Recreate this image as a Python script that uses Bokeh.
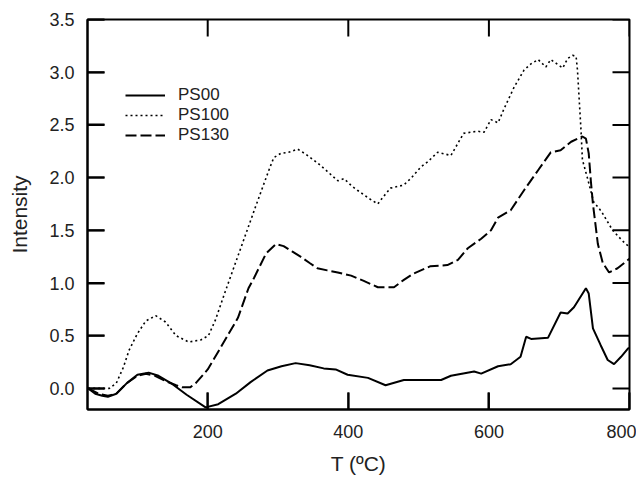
import math
from bokeh.plotting import figure
from bokeh.models import (Range1d, FixedTicker, PrintfTickFormatter, Legend, LegendItem)
from bokeh.embed import file_html
from bokeh.resources import INLINE

# ---- data ----
ps00_x = [30, 40, 50, 58, 70, 85, 100, 116, 130, 150, 170, 197, 215, 240, 261, 285,
          305, 325, 345, 365, 382, 399, 428, 453, 479, 532, 546, 579, 589, 613, 631,
          645, 653, 660, 684, 702, 712, 721, 738, 742, 748, 759, 769, 778, 788, 798, 800]
ps00_y = [0.0, -0.05, -0.07, -0.08, -0.05, 0.05, 0.13, 0.15, 0.12, 0.04, -0.06, -0.18,
          -0.15, -0.05, 0.06, 0.17, 0.21, 0.24, 0.22, 0.19, 0.18, 0.13, 0.10, 0.03, 0.08,
          0.08, 0.12, 0.16, 0.14, 0.21, 0.23, 0.30, 0.49, 0.47, 0.48, 0.72, 0.71, 0.77,
          0.95, 0.90, 0.57, 0.41, 0.27, 0.23, 0.30, 0.38, 0.38]

ps100_x = [30, 45, 60, 70, 80, 88, 100, 112, 126, 140, 155, 173, 190, 201, 211, 225,
           240, 255, 270, 287, 294, 304, 315, 328, 340, 356, 370, 385, 394, 405, 413,
           430, 442, 450, 460, 479, 490, 503, 513, 527, 546, 564, 584, 593, 603, 613,
           622, 636, 650, 660, 670, 681, 688, 705, 712, 719, 724, 726, 731, 733, 740,
           749, 760, 776, 790, 800]
ps100_y = [0.0, 0.0, 0.0, 0.05, 0.2, 0.36, 0.52, 0.64, 0.69, 0.63, 0.50, 0.44, 0.46,
           0.50, 0.65, 0.92, 1.20, 1.48, 1.76, 2.07, 2.19, 2.23, 2.24, 2.27, 2.22, 2.14,
           2.06, 1.97, 1.99, 1.92, 1.88, 1.80, 1.75, 1.82, 1.90, 1.93, 2.00, 2.10, 2.15,
           2.24, 2.21, 2.42, 2.44, 2.43, 2.55, 2.52, 2.66, 2.86, 3.02, 3.08, 3.12, 3.05,
           3.12, 3.04, 3.13, 3.16, 3.15, 3.02, 2.45, 2.17, 2.0, 1.77, 1.68, 1.50, 1.40, 1.34]

ps130_x = [30, 45, 58, 70, 85, 100, 112, 125, 140, 155, 164, 175, 183, 200, 216, 230,
           243, 258, 266, 283, 297, 308, 320, 332, 345, 356, 370, 385, 404, 422, 442,
           465, 479, 493, 517, 541, 556, 570, 589, 603, 613, 631, 650, 670, 688, 702,
           717, 733, 738, 742, 745, 748, 755, 762, 771, 783, 798, 800]
ps130_y = [0.0, -0.05, -0.07, -0.05, 0.05, 0.12, 0.14, 0.12, 0.07, 0.03, 0.01, 0.01,
           0.05, 0.18, 0.36, 0.52, 0.67, 0.95, 1.05, 1.28, 1.37, 1.35, 1.30, 1.25, 1.19,
           1.14, 1.12, 1.10, 1.07, 1.02, 0.96, 0.96, 1.03, 1.09, 1.16, 1.17, 1.22, 1.33,
           1.42, 1.50, 1.62, 1.69, 1.88, 2.07, 2.24, 2.26, 2.34, 2.39, 2.37, 2.23, 1.97,
           1.75, 1.37, 1.19, 1.10, 1.14, 1.22, 1.23]

series_names = ["PS00", "PS100", "PS130"]
x_ticks = [200, 400, 600, 800]
y_ticks = [0.0, 0.5, 1.0, 1.5, 2.0, 2.5, 3.0, 3.5]
x_lo, x_hi = 29, 800
y_lo, y_hi = -0.2, 3.5

FONT = "Liberation Sans"
TXT = "#222222"
TICK_PX = 17
W, H = 636, 480
BL, BR, BT, BB = 87, 7, 19, 71

p = figure(width=W, height=H, output_backend="svg", toolbar_location=None,
           x_range=Range1d(x_lo, x_hi), y_range=Range1d(y_lo, y_hi),
           min_border_left=BL, min_border_right=BR, min_border_top=BT,
           min_border_bottom=BB)
p.outline_line_color = "black"
p.outline_line_width = 2
p.grid.visible = False

for ax, t in ((p.xaxis[0], x_ticks), (p.yaxis[0], y_ticks)):
    ax.ticker = FixedTicker(ticks=t)
    ax.major_tick_in = TICK_PX
    ax.major_tick_out = 0
    ax.major_tick_line_width = 2
    ax.minor_tick_in = 0
    ax.minor_tick_out = 0
    ax.axis_line_width = 2
    ax.major_label_text_font = FONT
    ax.major_label_text_font_size = "18px"
    ax.major_label_text_color = TXT
    ax.axis_label_text_font = FONT
    ax.axis_label_text_font_size = "21px"
    ax.axis_label_text_font_style = "normal"
    ax.axis_label_text_color = TXT

xa = p.xaxis[0]
ya = p.yaxis[0]
xa.axis_label = "T (ºC)"
ya.axis_label = "Intensity"
xa.major_label_standoff = 15
xa.axis_label_standoff = 11
ya.major_label_standoff = 13
ya.axis_label_standoff = 15
ya.formatter = PrintfTickFormatter(format="%.1f")

# inward tick marks on all four sides, drawn as one broken line built from the
# tick lists (tick length converted from pixels to data units)
dx = TICK_PX * (x_hi - x_lo) / (W - BL - BR)
dy = TICK_PX * (y_hi - y_lo) / (H - BT - BB)
nan = float("nan")
tx, ty = [], []
for t in x_ticks:
    tx += [t, t, nan, t, t, nan]
    ty += [y_lo, y_lo + dy, nan, y_hi, y_hi - dy, nan]
for t in y_ticks:
    tx += [x_lo, x_lo + dx, nan, x_hi, x_hi - dx, nan]
    ty += [t, t, nan, t, t, nan]
p.line(tx, ty, line_color="black", line_width=2)

r0 = p.line(ps00_x, ps00_y, line_color="black", line_width=2)
r1 = p.line(ps100_x, ps100_y, line_color="black", line_width=1.6, line_dash="2 3")
r2 = p.line(ps130_x, ps130_y, line_color="black", line_width=2, line_dash="11 4")

legend = Legend(items=[LegendItem(label=series_names[0], renderers=[r0]),
                       LegendItem(label=series_names[1], renderers=[r1]),
                       LegendItem(label=series_names[2], renderers=[r2])],
                location=(38, 264), padding=0, margin=0, spacing=0,
                glyph_width=40, glyph_height=18, label_height=18,
                label_standoff=13, border_line_color=None,
                background_fill_alpha=0,
                label_text_font=FONT, label_text_font_size="17px",
                label_text_color=TXT)
p.add_layout(legend, "center")

open("out.html", "w").write(file_html(p, INLINE))
